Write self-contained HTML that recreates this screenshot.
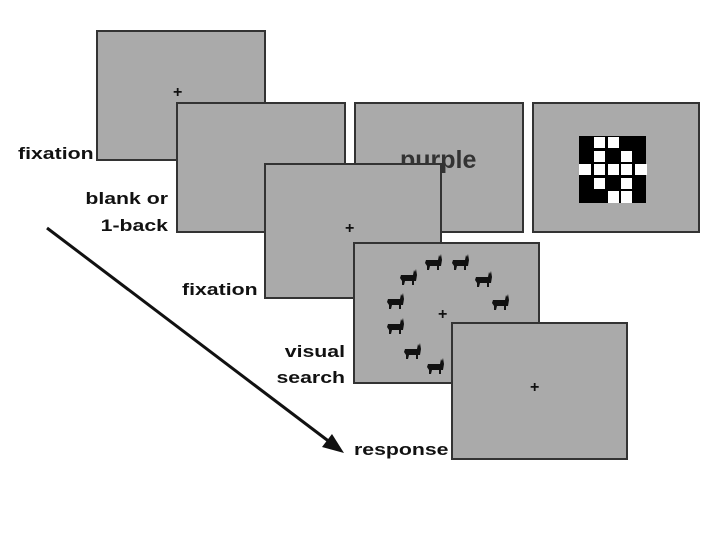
<!DOCTYPE html>
<html><head><style>
body{margin:0;width:720px;height:540px;background:#fff;position:relative;overflow:hidden;font-family:"Liberation Sans",sans-serif}
.b{position:absolute;background:#aaa;border:2px solid #333;box-sizing:border-box}
.t{position:absolute;font-weight:bold;font-size:17px;color:#111;line-height:18px;transform:scaleX(1.25);transform-origin:left center;white-space:nowrap}
.r{text-align:right;transform-origin:right center}
.p{position:absolute;font-size:16px;font-weight:bold;color:#111;line-height:16px}
</style></head><body>
<div class="b" style="left:96px;top:30px;width:170px;height:131px"></div>
<div class="p" style="left:173px;top:85px">+</div>
<div class="b" style="left:354px;top:102px;width:170px;height:131px"></div>
<div style="position:absolute;left:400px;top:146px;font-size:25px;font-weight:bold;color:#333">purple</div>
<div class="b" style="left:532px;top:102px;width:168px;height:131px"></div>
<svg style="position:absolute;left:579px;top:136px" width="68" height="67">
<rect width="67" height="67" fill="#000"/>
<g fill="#fff">
<rect x="15" y="1" width="11" height="11"/><rect x="29" y="1" width="11" height="11"/>
<rect x="15" y="15" width="11" height="11"/><rect x="42" y="15" width="11" height="11"/>
<rect x="0" y="28" width="12" height="11"/><rect x="15" y="28" width="11" height="11"/><rect x="29" y="28" width="11" height="11"/><rect x="42" y="28" width="11" height="11"/><rect x="56" y="28" width="12" height="11"/>
<rect x="15" y="42" width="11" height="11"/><rect x="42" y="42" width="11" height="11"/>
<rect x="29" y="55" width="11" height="12"/><rect x="42" y="55" width="11" height="12"/>
</g></svg>
<div class="b" style="left:176px;top:102px;width:170px;height:131px"></div>
<div class="b" style="left:264px;top:163px;width:178px;height:136px"></div>
<div class="p" style="left:345px;top:221px">+</div>
<div class="b" style="left:353px;top:242px;width:187px;height:142px"></div>
<div class="p" style="left:438px;top:307px">+</div>
<svg style="position:absolute;left:0;top:0" width="720" height="540">
<defs><g id="c" fill="#111"><path d="M-7,-3 L5,-3 L6,-8 L7,-6 L8,-9 L9,-3 L8,3 L6,3 L6,7 L4,7 L4,3 L-3,3 L-4,7 L-6,7 L-6,3 L-8,0 Z"/></g></defs>
<use href="#c" x="433" y="263"/><use href="#c" x="460" y="263"/><use href="#c" x="408" y="278"/>
<use href="#c" x="483" y="280"/><use href="#c" x="395" y="302"/><use href="#c" x="500" y="303"/>
<use href="#c" x="395" y="327"/><use href="#c" x="412" y="352"/><use href="#c" x="435" y="367"/>
<line x1="47" y1="228" x2="335" y2="446" stroke="#111" stroke-width="3"/>
<polygon points="344,453 322,447 332,434" fill="#111"/>
</svg>
<div class="b" style="left:451px;top:322px;width:177px;height:138px"></div>
<div class="p" style="left:530px;top:380px">+</div>
<div class="t" style="left:18px;top:145px">fixation</div>
<div class="t r" style="left:40px;top:190px;width:128px">blank or</div>
<div class="t r" style="left:40px;top:217px;width:128px">1-back</div>
<div class="t" style="left:182px;top:281px">fixation</div>
<div class="t r" style="left:225px;top:343px;width:120px">visual</div>
<div class="t r" style="left:225px;top:369px;width:120px">search</div>
<div class="t" style="left:354px;top:441px">response</div>
</body></html>
